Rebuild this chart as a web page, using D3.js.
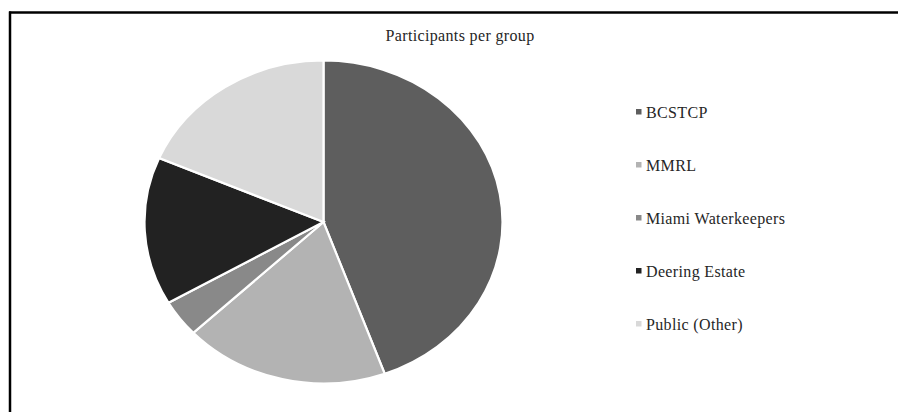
<!DOCTYPE html>
<html>
<head>
<meta charset="utf-8">
<script src="https://cdn.jsdelivr.net/npm/d3@7"></script>
<style>
  html, body { margin: 0; padding: 0; background: #fff; }
  svg { display: block; }
  text { font-family: "Liberation Serif", "Times New Roman", serif; fill: #262626; }
</style>
</head>
<body>
<div id="chart"></div>
<script>
// Participants per group
const groups = ["BCSTCP", "MMRL", "Miami Waterkeepers", "Deering Estate", "Public (Other)"];
const participants = [12, 5, 1, 4, 5];
const sliceColors = ["#5e5e5e", "#b3b3b3", "#898989", "#222222", "#d9d9d9"];
const chartTitle = "Participants per group";

const width = 898, height = 412;
const svg = d3.select("#chart").append("svg")
  .attr("width", width).attr("height", height);

// outer frame (top and left rules)
svg.append("line").attr("x1", 9).attr("x2", width).attr("y1", 12.5).attr("y2", 12.5)
  .attr("stroke", "#000").attr("stroke-width", 2.5);
svg.append("line").attr("x1", 10).attr("x2", 10).attr("y1", 11.5).attr("y2", height)
  .attr("stroke", "#000").attr("stroke-width", 2.5);

// title
svg.append("text")
  .attr("x", 460).attr("y", 41)
  .attr("text-anchor", "middle")
  .attr("font-size", 16)
  .attr("letter-spacing", 0.35)
  .text(chartTitle);

// pie, drawn slightly wider than tall
const ry = 161.5, rx = 179;
const pie = d3.pie().sort(null).value(d => d)(participants);
const arc = d3.arc().innerRadius(0).outerRadius(ry);

const g = svg.append("g")
  .attr("transform", `translate(323.5,222) scale(${rx / ry},1)`);

g.selectAll("path")
  .data(pie)
  .join("path")
  .attr("d", arc)
  .attr("fill", (d, i) => sliceColors[i])
  .attr("stroke", "#fff")
  .attr("stroke-width", 2.2)
  .attr("vector-effect", "non-scaling-stroke");

// legend
const legendY = d3.scalePoint().domain(groups).range([112, 324]);
const legend = svg.append("g");
const item = legend.selectAll("g")
  .data(groups)
  .join("g")
  .attr("transform", d => `translate(636,${legendY(d)})`);

item.append("rect")
  .attr("x", 0).attr("y", -3).attr("width", 5.5).attr("height", 5.5)
  .attr("fill", (d, i) => sliceColors[i]);

item.append("text")
  .attr("x", 10).attr("y", 5.5)
  .attr("font-size", 16)
  .attr("letter-spacing", 0.35)
  .text(d => d);
</script>
</body>
</html>
